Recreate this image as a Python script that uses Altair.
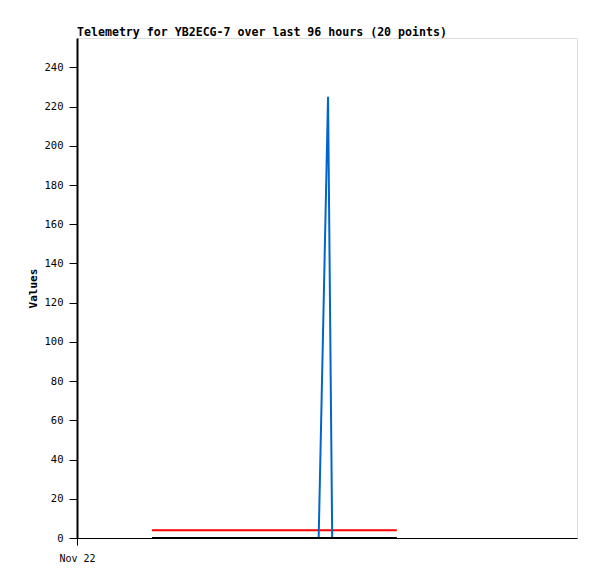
import altair as alt
import pandas as pd

# hours since Nov 22 00:00
hours = [14.4, 17.0, 20.0, 23.0, 26.0, 29.0, 32.0, 35.0, 38.0, 41.0,
         44.0, 46.4, 48.2, 49.0, 51.0, 53.0, 55.0, 57.0, 59.0, 61.4]
blue_vals = [0, 0, 0, 0, 0, 0, 0, 0, 0, 0, 0, 0, 225, 0, 0, 0, 0, 0, 0, 0]
red_vals = [4] * 20
black_vals = [0] * 20
y_ticks = list(range(0, 241, 20))

df = pd.DataFrame({"h": hours, "blue": blue_vals, "red": red_vals, "black": black_vals})

FONT = "DejaVu Sans Mono"

x = alt.X("h:Q", scale=alt.Scale(domain=[0, 96], nice=False, zero=False),
          axis=alt.Axis(values=[0], labelExpr="'Nov 22'", title=None, grid=False,
                        ticks=True, domain=True, tickSize=7, tickWidth=1, domainWidth=1,
                        tickColor="black", domainColor="black", labelFlush=False,
                        labelFont=FONT, labelFontSize=10, labelColor="black",
                        labelPadding=8, zindex=1))

def layer(field, color):
    y = alt.Y(f"{field}:Q", scale=alt.Scale(domain=[0, 255], nice=False),
              axis=alt.Axis(values=y_ticks, title="Values", grid=False,
                            ticks=True, domain=True, tickSize=8, tickWidth=1, domainWidth=2,
                            tickColor="black", domainColor="black",
                            labelFont=FONT, labelFontSize=10.5, labelColor="black",
                            labelPadding=6, titleFont=FONT, titleFontSize=11,
                            titleFontWeight="bold", titleColor="black", titlePadding=6,
                            zindex=1))
    return alt.Chart(df).mark_line(color=color, strokeWidth=2, interpolate="linear").encode(x=x, y=y)

chart = alt.layer(
    layer("red", "#ff0000"),
    layer("blue", "#0066cc"),
    layer("black", "#000000"),
).properties(
    width=500, height=500,
    title=alt.TitleParams("Telemetry for YB2ECG-7 over last 96 hours (20 points)",
                          anchor="start", frame="group", font=FONT, fontSize=11.6,
                          fontWeight="bold", color="black", offset=-1),
    autosize="none",
    padding={"left": 69, "top": 30, "right": 12, "bottom": 33},
).configure_view(stroke="#555555", strokeWidth=1).configure(background="white")

chart.save("out.html", embed_options={"renderer": "svg", "actions": False})
